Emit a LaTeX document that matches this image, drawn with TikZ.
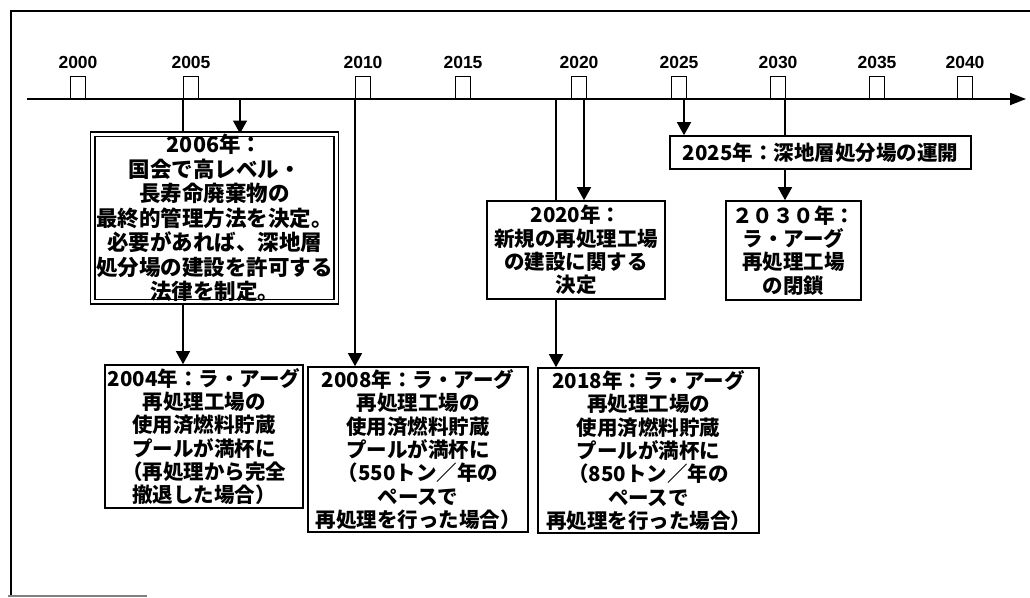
\documentclass[tikz,border=0pt]{standalone}
\usepackage{fontspec}
\setmainfont{Liberation Sans}
\newfontfamily\jp{Noto Sans CJK JP}
\usetikzlibrary{arrows.meta,backgrounds}
\begin{document}
\begin{tikzpicture}[x=1pt,y=-1pt,
  evbox/.style={draw,line width=1.6pt,fill=white,inner sep=0pt,align=center,
    font=\jp\bfseries\fontsize{20.5}{23.3}\selectfont},
  dblbox/.style={evbox,double,double distance=3pt,line width=1.3pt,
    font=\jp\bfseries\fontsize{21.5}{24.5}\selectfont},
  yeartick/.style={draw,line width=1.4pt,inner sep=0pt,minimum width=15pt,minimum height=22pt,anchor=south},
  yearlabel/.style={font=\bfseries\fontsize{17.5}{20}\selectfont,inner sep=0pt},
  conn/.style={line width=1.4pt,-{Triangle[length=13pt,width=14pt]}},
  axisline/.style={line width=1.8pt,-{Triangle[length=16pt,width=12pt]}},
  frameline/.style={line width=1.8pt}
  ]
\useasboundingbox (0,0) rectangle (1030,597);
% frame
\draw[frameline] (1030,11) -- (11,11) -- (11,597);
\draw[line width=1.2pt,gray] (8,596) -- (147,596);

% year ticks and labels
\foreach \yr/\xx in {2000/78,2005/191,2010/363,2015/463,2020/579,2025/679,2030/778,2035/877,2040/965}{
  \node[yeartick] (t\yr) at (\xx,99) {};
  \node[yearlabel] (l\yr) at (\xx,62) {\yr};
}

% event boxes
\node[dblbox,minimum width=243.4pt,minimum height=164.4pt] (b2006) at (214.5,218)
  {2006年：\\国会で高レベル・\\長寿命廃棄物の\\最終的管理方法を決定。\\必要があれば、深地層\\処分場の建設を許可する\\法律を制定。};
\node[evbox,minimum width=198pt,minimum height=143pt] (b2004) at (204,436.5)
  {2004年：ラ・アーグ\\再処理工場の\\使用済燃料貯蔵\\プールが満杯に\\（再処理から完全\\撤退した場合）};
\node[evbox,minimum width=220pt,minimum height=165pt] (b2008) at (418,449.5)
  {2008年：ラ・アーグ\\再処理工場の\\使用済燃料貯蔵\\プールが満杯に\\（550トン／年の\\ペースで\\再処理を行った場合）};
\node[evbox,minimum width=221pt,minimum height=165pt] (b2018) at (648.5,450.5)
  {2018年：ラ・アーグ\\再処理工場の\\使用済燃料貯蔵\\プールが満杯に\\（850トン／年の\\ペースで\\再処理を行った場合）};
\node[evbox,minimum width=178pt,minimum height=98pt] (b2020) at (576,250)
  {2020年：\\新規の再処理工場\\の建設に関する\\決定};
\node[evbox,minimum width=301pt,minimum height=33pt] (b2025) at (820.5,152.5)
  {2025年：深地層処分場の運開};
\node[evbox,minimum width=135pt,minimum height=99pt] (b2030) at (793.5,250.5)
  {２０３０年：\\ラ・アーグ\\再処理工場\\の閉鎖};

% axis coordinates
\coordinate (axL) at (27,99);
\coordinate (axR) at (1026,99);
\coordinate (c1) at (183,99);
\coordinate (c2) at (240,99);
\coordinate (c3) at (355,99);
\coordinate (c4) at (556,99);
\coordinate (c5) at (584,99);
\coordinate (c6) at (684,99);
\coordinate (c7) at (785,99);

\begin{pgfonlayer}{background}
\draw[axisline] (axL) -- (axR);
\draw[conn] (c1) -- (c1 |- b2004.north);
\draw[conn] (c2) -- (c2 |- b2006.north);
\draw[conn] (c3) -- (c3 |- b2008.north);
\draw[conn] (c4) -- (c4 |- b2018.north);
\draw[conn] (c5) -- (c5 |- b2020.north);
\draw[conn] (c6) -- (c6 |- b2025.north);
\draw[conn] (c7) -- (c7 |- b2030.north);
\end{pgfonlayer}
\end{tikzpicture}
\end{document}
